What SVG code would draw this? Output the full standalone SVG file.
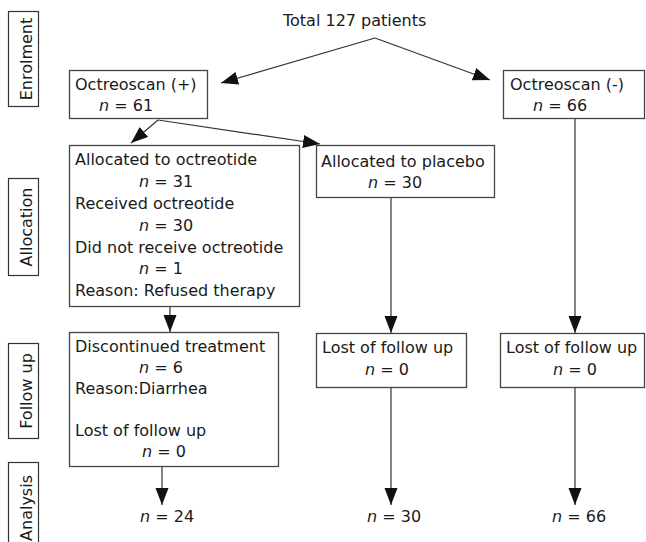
<svg xmlns="http://www.w3.org/2000/svg" width="646" height="542" viewBox="0 0 646 542">
<defs>
<marker id="ah" markerUnits="userSpaceOnUse" markerWidth="18" markerHeight="14" refX="17" refY="6.5" orient="auto">
<path d="M0,0 L17,6.5 L0,13 Z" fill="#111"/>
</marker>
<style>
text{font-family:"DejaVu Sans",Verdana,sans-serif;font-size:16px;fill:#1a1a1a}
.i{font-style:italic}
.box{fill:#fff;stroke:#444;stroke-width:1.3}
.side{fill:#fff;stroke:#333;stroke-width:1.2}
.c{fill:none;stroke:#333;stroke-width:1.2;marker-end:url(#ah)}
.m{text-anchor:middle}
</style>
</defs>
<rect width="646" height="542" fill="#fff"/>

<g id="side-labels">
<g id="enrolment"><rect class="side" x="8.5" y="11.5" width="30" height="95"/><text class="m" transform="translate(32,59) rotate(-90)">Enrolment</text></g>
<g id="allocation"><rect class="side" x="8.5" y="178.5" width="30" height="97"/><text class="m" transform="translate(32,227) rotate(-90)">Allocation</text></g>
<g id="followup"><rect class="side" x="8.5" y="343.5" width="30" height="95"/><text class="m" transform="translate(32,391) rotate(-90)">Follow up</text></g>
<g id="analysis"><rect class="side" x="8.5" y="462.5" width="30" height="100"/><text class="m" transform="translate(32,508) rotate(-90)">Analysis</text></g>
</g>

<g id="connectors">
<path class="c" d="M375,38 L221,83"/>
<path class="c" d="M375,38 L490,80"/>
<path class="c" d="M158,120 L131,143"/>
<path class="c" d="M158,120 L320,144"/>
<path class="c" d="M170,306 L170,332"/>
<path class="c" d="M391,197 L391,333"/>
<path class="c" d="M575,119 L575,333"/>
<path class="c" d="M162,466 L162,505"/>
<path class="c" d="M391,387 L391,505"/>
<path class="c" d="M575,387 L575,505"/>
</g>

<g id="total"><text x="283" y="26">Total 127 patients</text></g>

<g id="octreoscan-pos">
<rect class="box" x="69.5" y="70.5" width="138" height="48"/>
<text x="75" y="90">Octreoscan (+)</text>
<text x="99" y="111"><tspan class="i">n</tspan> = 61</text>
</g>

<g id="octreoscan-neg">
<rect class="box" x="503.5" y="70.5" width="141" height="48"/>
<text x="510" y="90">Octreoscan (-)</text>
<text x="533" y="111"><tspan class="i">n</tspan> = 66</text>
</g>

<g id="alloc-octreotide">
<rect class="box" x="69.5" y="145.5" width="230" height="161"/>
<text x="75" y="165">Allocated to octreotide</text>
<text x="139" y="187"><tspan class="i">n</tspan> = 31</text>
<text x="75" y="209">Received octreotide</text>
<text x="139" y="231"><tspan class="i">n</tspan> = 30</text>
<text x="75" y="253">Did not receive octreotide</text>
<text x="139" y="274"><tspan class="i">n</tspan> = 1</text>
<text x="75" y="296">Reason: Refused therapy</text>
</g>

<g id="alloc-placebo">
<rect class="box" x="316.5" y="145.5" width="178" height="52"/>
<text x="321" y="167">Allocated to placebo</text>
<text x="368" y="188"><tspan class="i">n</tspan> = 30</text>
</g>

<g id="followup-octreotide">
<rect class="box" x="69.5" y="332.5" width="209" height="134"/>
<text x="75" y="352">Discontinued treatment</text>
<text x="139" y="373"><tspan class="i">n</tspan> = 6</text>
<text x="75" y="394">Reason:Diarrhea</text>
<text x="75" y="436">Lost of follow up</text>
<text x="142" y="457"><tspan class="i">n</tspan> = 0</text>
</g>

<g id="followup-placebo">
<rect class="box" x="316.5" y="333.5" width="150" height="54"/>
<text x="322" y="353">Lost of follow up</text>
<text x="365" y="375"><tspan class="i">n</tspan> = 0</text>
</g>

<g id="followup-neg">
<rect class="box" x="500.5" y="333.5" width="144" height="54"/>
<text x="506" y="353">Lost of follow up</text>
<text x="553" y="375"><tspan class="i">n</tspan> = 0</text>
</g>

<g id="analysis-octreotide"><text x="140" y="522"><tspan class="i">n</tspan> = 24</text></g>
<g id="analysis-placebo"><text x="367" y="522"><tspan class="i">n</tspan> = 30</text></g>
<g id="analysis-neg"><text x="552" y="522"><tspan class="i">n</tspan> = 66</text></g>
</svg>
